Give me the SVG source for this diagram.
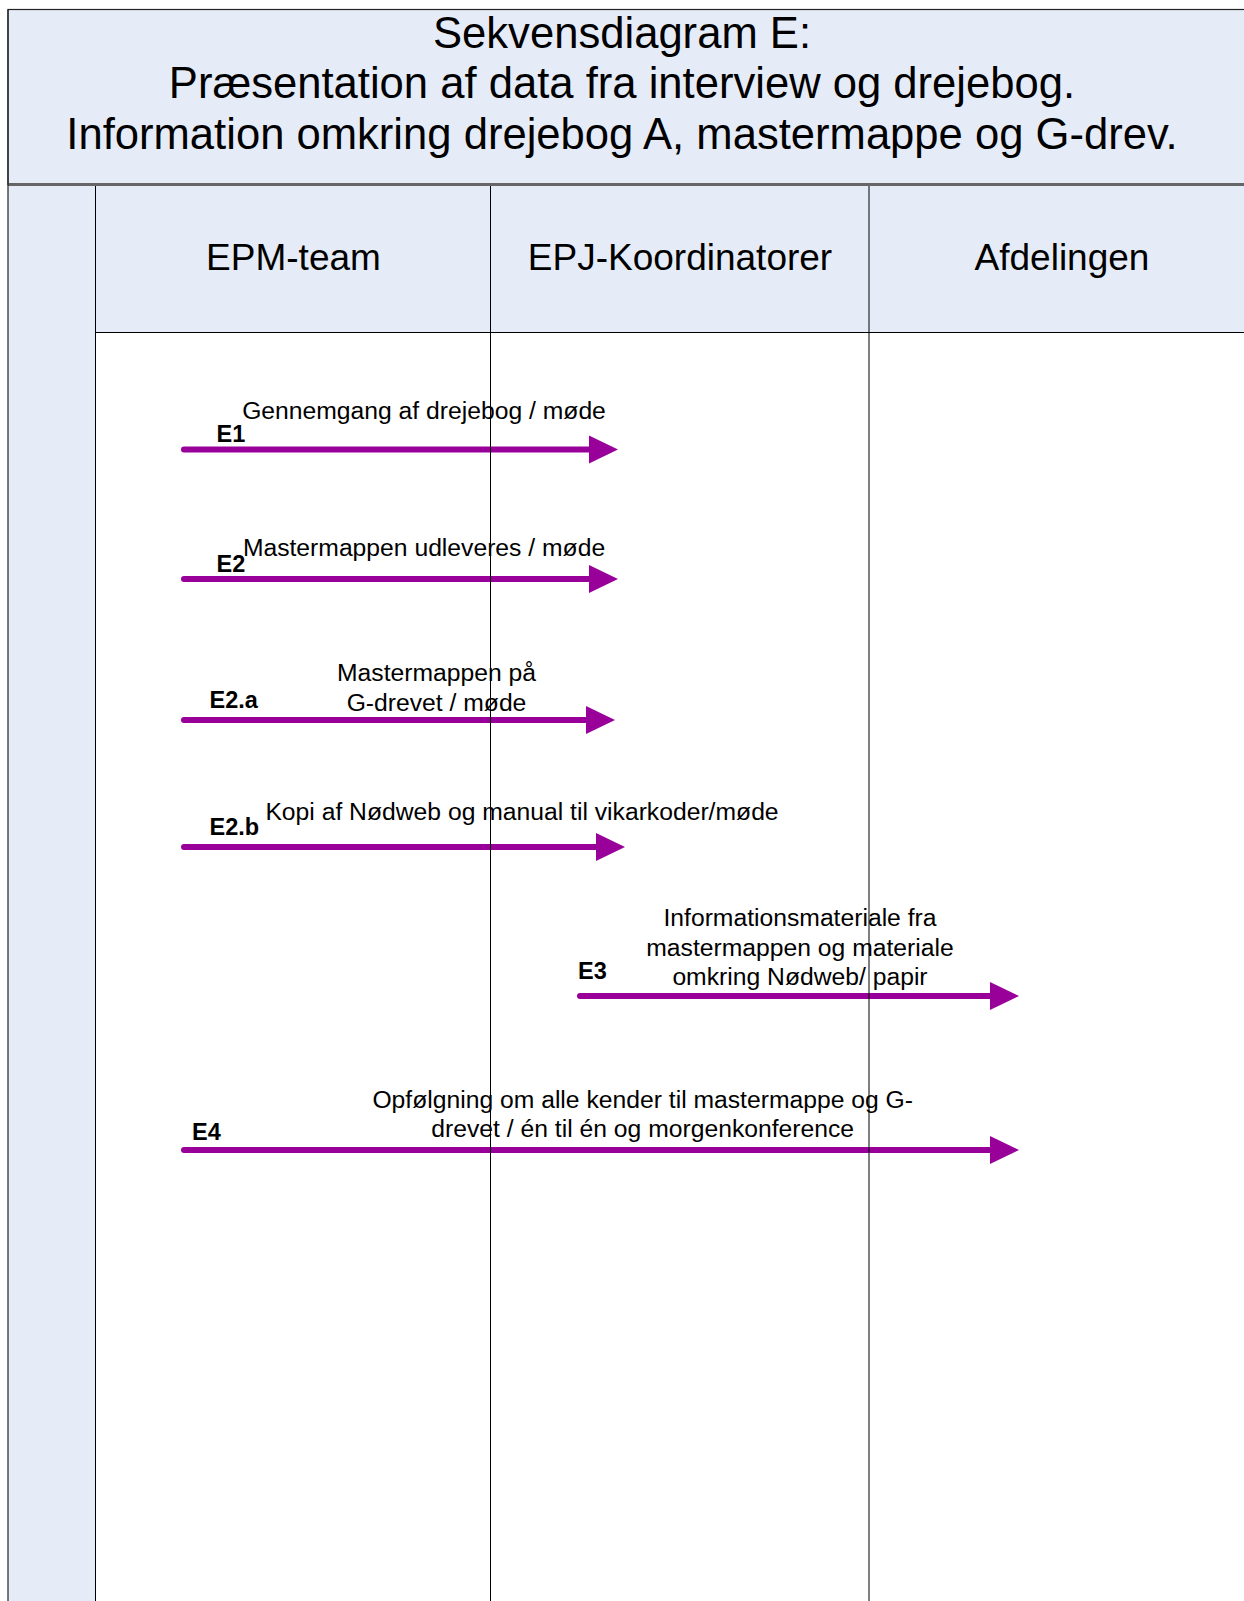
<svg xmlns="http://www.w3.org/2000/svg" width="1244" height="1601" viewBox="0 0 1244 1601">
  <style>
    .band { fill: #E6ECF7; }
    .title { font-family: "Liberation Sans", Arial, sans-serif; font-size: 43.6px; fill: #000; text-anchor: middle; }
    .lane { font-family: "Liberation Sans", Arial, sans-serif; font-size: 37px; fill: #000; text-anchor: middle; }
    .msg { font-family: "Liberation Sans", Arial, sans-serif; font-size: 24.7px; fill: #000; text-anchor: middle; }
    .tag { font-family: "Liberation Sans", Arial, sans-serif; font-size: 23.5px; font-weight: bold; fill: #000; }
    .flow { stroke: #990099; stroke-width: 6; stroke-linecap: round; fill: none; marker-end: url(#head); }
    .divider { stroke: #000; stroke-width: 1; }
  </style>
  <defs>
    <marker id="head" markerUnits="userSpaceOnUse" markerWidth="29" markerHeight="29" refX="0" refY="14" orient="auto" viewBox="0 0 29 28" overflow="visible">
      <path d="M0,0 L29,14 L0,28 Z" fill="#990099"/>
    </marker>
  </defs>

  <rect width="1244" height="1601" fill="#FFFFFF"/>

  <!-- title box -->
  <g id="title">
    <rect class="band" x="8" y="9.5" width="1246" height="175" stroke="#222" stroke-width="1.2"/>
    <text class="title" x="622" y="47.5">Sekvensdiagram E:</text>
    <text class="title" x="622" y="98">Præsentation af data fra interview og drejebog.</text>
    <text class="title" x="622" y="148.5">Information omkring drejebog A, mastermappe og G-drev.</text>
  </g>

  <!-- pool frame: left strip and header row -->
  <g id="pool">
    <rect class="band" x="8" y="186" width="88" height="1420"/>
    <rect class="band" x="96" y="186" width="1160" height="146"/>
    <line x1="8" y1="184.5" x2="1244" y2="184.5" stroke="#666" stroke-width="3"/>
    <line x1="8" y1="9.5" x2="8" y2="1601" stroke="#222" stroke-width="1.2"/>
  </g>

  <g id="lane-epm">
    <text class="lane" x="293.5" y="270">EPM-team</text>
  </g>
  <g id="lane-epj">
    <text class="lane" x="680" y="270">EPJ-Koordinatorer</text>
  </g>
  <g id="lane-afd">
    <text class="lane" x="1062" y="270">Afdelingen</text>
  </g>

  <!-- messages -->
  <g id="connectors">
    <g id="E1">
      <line class="flow" x1="184" y1="449.5" x2="589" y2="449.5"/>
      <text class="msg" x="424" y="419">Gennemgang af drejebog / møde</text>
      <text class="tag" x="216.5" y="442">E1</text>
    </g>
    <g id="E2">
      <line class="flow" x1="184" y1="579" x2="589" y2="579"/>
      <text class="msg" x="424" y="555.5">Mastermappen udleveres / møde</text>
      <text class="tag" x="216.5" y="572">E2</text>
    </g>
    <g id="E2a">
      <line class="flow" x1="184" y1="720" x2="586" y2="720"/>
      <text class="msg" x="436.5" y="680.5">Mastermappen på</text>
      <text class="msg" x="436.5" y="711">G-drevet / møde</text>
      <text class="tag" x="209.5" y="707.5">E2.a</text>
    </g>
    <g id="E2b">
      <line class="flow" x1="184" y1="847" x2="596" y2="847"/>
      <text class="msg" x="522" y="820">Kopi af Nødweb og manual til vikarkoder/møde</text>
      <text class="tag" x="209.5" y="835">E2.b</text>
    </g>
    <g id="E3">
      <line class="flow" x1="580" y1="996" x2="990" y2="996"/>
      <text class="msg" x="800" y="926">Informationsmateriale fra</text>
      <text class="msg" x="800" y="956">mastermappen og materiale</text>
      <text class="msg" x="800" y="985">omkring Nødweb/ papir</text>
      <text class="tag" x="578" y="979">E3</text>
    </g>
    <g id="E4">
      <line class="flow" x1="184" y1="1150" x2="990" y2="1150"/>
      <text class="msg" x="642.7" y="1108">Opfølgning om alle kender til mastermappe og G-</text>
      <text class="msg" x="642.7" y="1137">drevet / én til én og morgenkonference</text>
      <text class="tag" x="192" y="1140">E4</text>
    </g>
  </g>

  <!-- lane dividers, drawn above the messages -->
  <g id="dividers">
    <line class="divider" x1="95.5" y1="186" x2="95.5" y2="1601"/>
    <line class="divider" x1="490.5" y1="186" x2="490.5" y2="1601"/>
    <line class="divider" x1="869" y1="186" x2="869" y2="1601" stroke-width="2"/>
    <line class="divider" x1="96" y1="332.5" x2="1244" y2="332.5"/>
  </g>
</svg>
